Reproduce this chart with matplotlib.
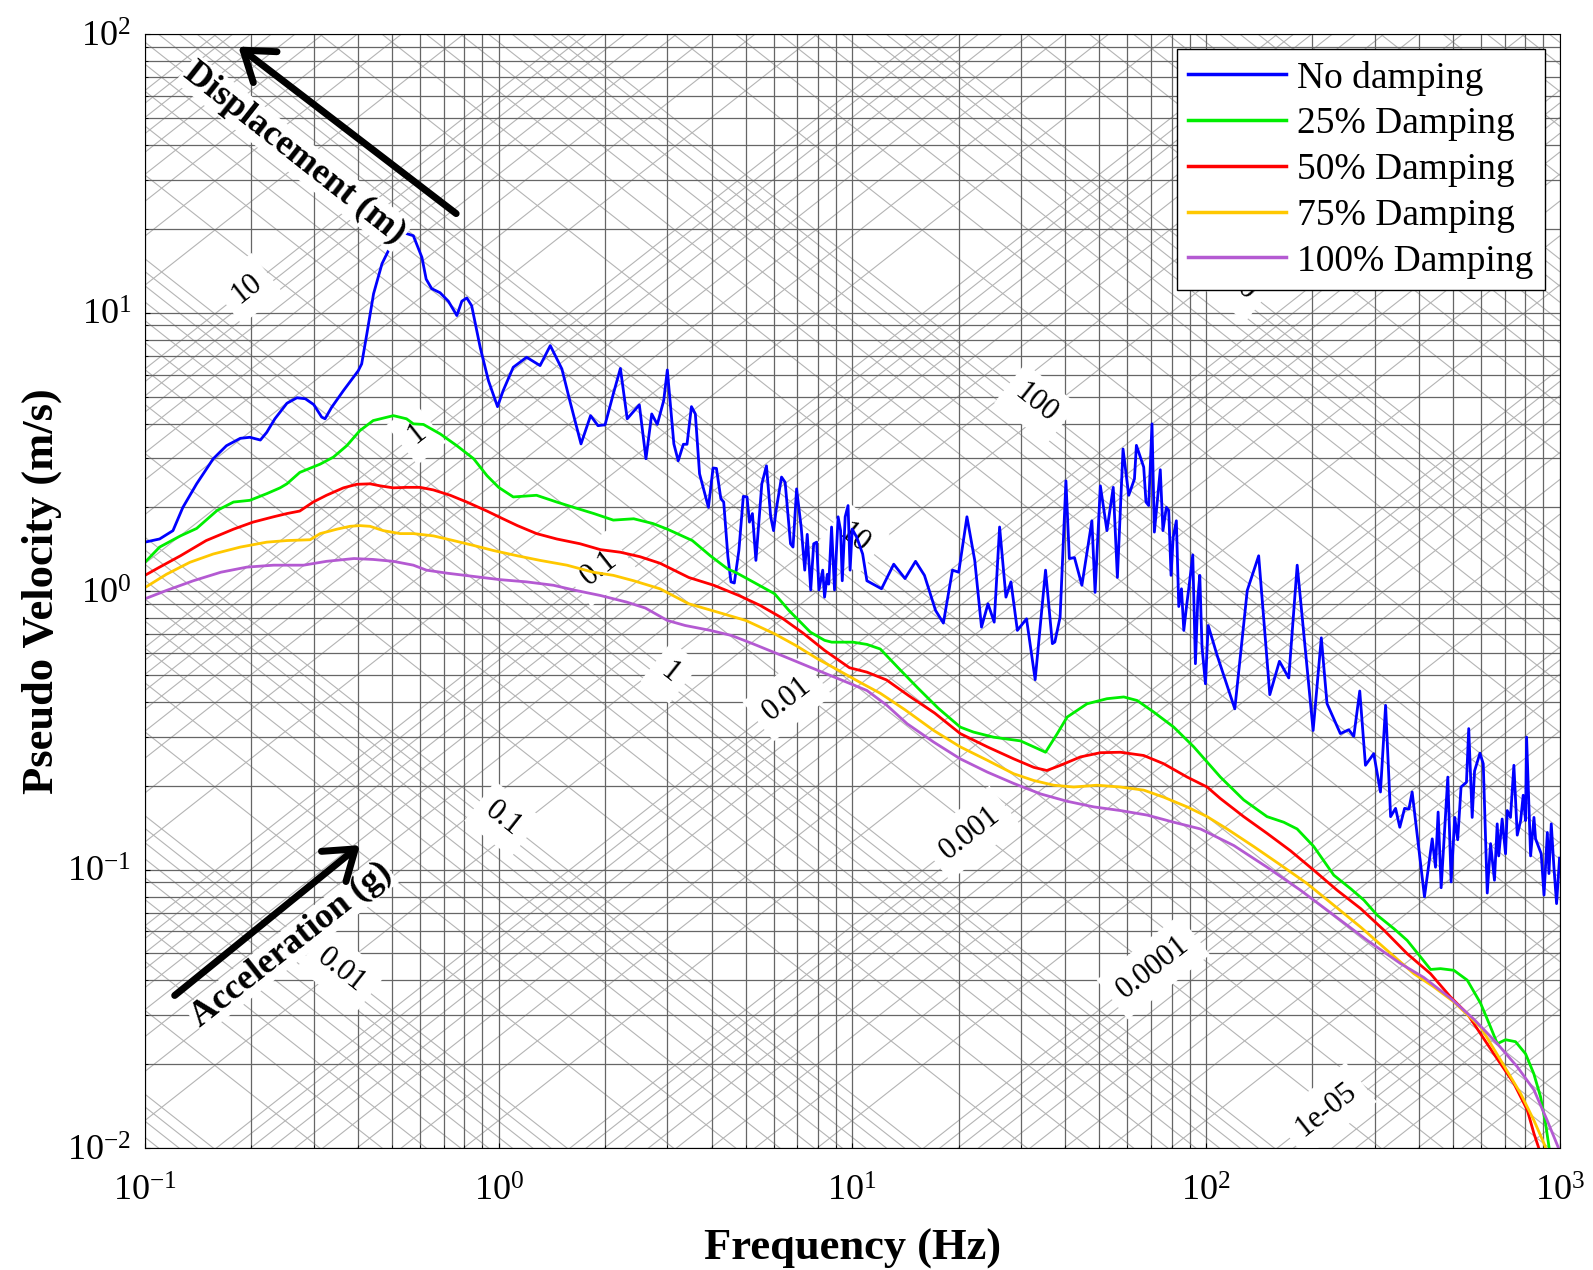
import numpy as np
import matplotlib
matplotlib.use('Agg')
import matplotlib.pyplot as plt

plt.rcParams['font.family'] = 'serif'
plt.rcParams['font.serif'] = ['Liberation Serif', 'DejaVu Serif']
plt.rcParams['mathtext.fontset'] = 'custom'
plt.rcParams['mathtext.rm'] = 'Liberation Serif'
plt.rcParams['mathtext.default'] = 'regular'

# (frequency [Hz], pseudo velocity [m/s])
no_damping = [
    (0.100, 1.50), (0.110, 1.54), (0.120, 1.65), (0.128, 2.00), (0.140, 2.43), (0.156, 2.99),
    (0.170, 3.33), (0.186, 3.54), (0.198, 3.57), (0.212, 3.49), (0.221, 3.72), (0.233, 4.16),
    (0.252, 4.73), (0.269, 4.95), (0.284, 4.91), (0.300, 4.68), (0.316, 4.22), (0.323, 4.16),
    (0.337, 4.57), (0.364, 5.25), (0.401, 6.19), (0.410, 6.55), (0.424, 8.39), (0.443, 11.7),
    (0.468, 15.0), (0.499, 17.7), (0.538, 19.4), (0.574, 18.9), (0.607, 15.8), (0.624, 13.2),
    (0.647, 12.2), (0.683, 11.8), (0.721, 11.0), (0.762, 9.77), (0.787, 11.0), (0.813, 11.3),
    (0.839, 10.6), (0.887, 7.51), (0.936, 5.70), (0.993, 4.60), (1.03, 5.25), (1.10, 6.37),
    (1.20, 6.92), (1.31, 6.46), (1.40, 7.62), (1.51, 6.28), (1.59, 4.83), (1.71, 3.38),
    (1.82, 4.27), (1.91, 3.93), (2.00, 3.96), (2.11, 5.11), (2.21, 6.31), (2.31, 4.16),
    (2.50, 4.67), (2.61, 2.99), (2.71, 4.33), (2.81, 3.97), (2.93, 4.84), (3.00, 6.23),
    (3.13, 3.38), (3.22, 2.94), (3.33, 3.37), (3.41, 3.37), (3.51, 4.60), (3.60, 4.33),
    (3.70, 2.64), (3.92, 2.00), (4.04, 2.77), (4.13, 2.76), (4.25, 2.15), (4.33, 2.09),
    (4.45, 1.33), (4.54, 1.08), (4.64, 1.07), (4.78, 1.40), (4.92, 2.19), (5.04, 2.18),
    (5.12, 1.77), (5.22, 1.90), (5.34, 1.29), (5.55, 2.43), (5.72, 2.82), (5.88, 1.85),
    (5.99, 1.65), (6.09, 1.95), (6.31, 2.57), (6.46, 2.46), (6.69, 1.48), (6.80, 1.44),
    (6.96, 2.33), (7.17, 1.70), (7.34, 1.19), (7.46, 1.60), (7.63, 1.01), (7.78, 1.48),
    (7.93, 1.50), (8.05, 1.01), (8.25, 1.19), (8.35, 0.952), (8.50, 1.15), (8.58, 1.06),
    (8.74, 1.70), (8.91, 1.01), (9.12, 1.85), (9.27, 1.65), (9.37, 1.09), (9.55, 1.85),
    (9.73, 2.03), (9.86, 1.19), (10.0, 1.67), (10.3, 1.56), (10.7, 1.36), (11.0, 1.09),
    (12.1, 1.02), (13.1, 1.25), (14.1, 1.11), (15.1, 1.28), (16.0, 1.14), (17.2, 0.853),
    (18.1, 0.768), (19.2, 1.19), (20.0, 1.17), (21.1, 1.85), (22.2, 1.29), (23.2, 0.743),
    (24.2, 0.901), (25.2, 0.774), (26.1, 1.70), (27.2, 0.952), (28.1, 1.08), (29.3, 0.723),
    (31.1, 0.796), (32.9, 0.481), (35.2, 1.19), (36.8, 0.648), (37.4, 0.657), (38.7, 0.807),
    (40.2, 2.49), (41.1, 1.31), (42.5, 1.32), (44.6, 1.05), (47.6, 1.79), (48.6, 0.99),
    (50.3, 2.39), (52.5, 1.65), (54.7, 2.36), (56.2, 1.12), (58.3, 3.24), (60.5, 2.21),
    (62.8, 2.53), (63.6, 3.34), (66.7, 2.79), (67.7, 2.09), (68.9, 2.03), (70.4, 3.99),
    (71.5, 1.63), (74.3, 2.73), (75.6, 1.65), (77.3, 2.00), (78.5, 1.95), (79.7, 1.14),
    (80.8, 1.56), (82.5, 1.79), (83.8, 0.881), (85.3, 1.02), (86.6, 0.723), (88.1, 0.877),
    (90.0, 1.09), (91.8, 1.35), (93.4, 0.549), (94.9, 0.952), (96.1, 1.14), (97.5, 0.630),
    (99.7, 0.465), (101.5, 0.753), (107.6, 0.588), (120.7, 0.378), (130.9, 1.006), (141.0, 1.34),
    (151.6, 0.425), (161.4, 0.560), (171.5, 0.488), (181.2, 1.24), (201.0, 0.316), (212.0, 0.680),
    (220.0, 0.395), (240.0, 0.308), (253.5, 0.318), (261.9, 0.301), (272.3, 0.438), (282.6, 0.237),
    (298.3, 0.261), (311.6, 0.190), (322.2, 0.389), (332.9, 0.155), (343.8, 0.166), (353.4, 0.142),
    (364.6, 0.166), (375.0, 0.165), (383.0, 0.190), (415.0, 0.0799), (436.5, 0.129), (445.9, 0.102),
    (453.6, 0.161), (462.6, 0.0861), (483.1, 0.215), (493.6, 0.0903), (505.5, 0.154), (515.2, 0.128),
    (526.6, 0.198), (545.5, 0.206), (553.6, 0.321), (566.2, 0.154), (575.0, 0.226), (595.6, 0.262),
    (608.5, 0.240), (624.5, 0.0824), (638.2, 0.124), (654.6, 0.0916), (666.4, 0.146), (673.0, 0.112),
    (688.2, 0.152), (703.6, 0.114), (711.4, 0.163), (726.6, 0.154), (742.8, 0.237), (759.3, 0.133),
    (776.2, 0.150), (789.2, 0.185), (801.5, 0.150), (806.9, 0.299), (828.2, 0.112), (846.5, 0.154),
    (855.4, 0.129), (887.5, 0.114), (903.8, 0.081), (923.6, 0.136), (933.3, 0.0968), (947.5, 0.146),
    (964.0, 0.102), (980.8, 0.0755), (1000.0, 0.110),
]

damping_25 = [
    (0.100, 1.27), (0.110, 1.44), (0.126, 1.58), (0.140, 1.68), (0.160, 1.95), (0.178, 2.09),
    (0.198, 2.12), (0.221, 2.24), (0.241, 2.35), (0.252, 2.43), (0.274, 2.67), (0.313, 2.86),
    (0.341, 3.03), (0.372, 3.33), (0.405, 3.77), (0.442, 4.10), (0.504, 4.27), (0.549, 4.16),
    (0.574, 3.99), (0.613, 3.97), (0.684, 3.67), (0.762, 3.33), (0.850, 2.99), (0.927, 2.60),
    (1.00, 2.36), (1.10, 2.18), (1.28, 2.21), (1.46, 2.09), (1.63, 2.00), (1.86, 1.90),
    (2.11, 1.80), (2.41, 1.82), (2.73, 1.75), (3.00, 1.67), (3.53, 1.52), (3.97, 1.34),
    (4.45, 1.20), (4.67, 1.17), (5.24, 1.08), (6.03, 0.979), (6.62, 0.853), (7.61, 0.713),
    (8.35, 0.666), (8.75, 0.656), (10.05, 0.656), (11.0, 0.644), (12.0, 0.62), (13.5, 0.53),
    (15.3, 0.45), (17.5, 0.38), (20.2, 0.325), (22.0, 0.312), (25.1, 0.299), (29.9, 0.290),
    (32.6, 0.276), (35.2, 0.264), (38.0, 0.308), (40.5, 0.353), (46.1, 0.394), (52.5, 0.411),
    (58.6, 0.417), (63.9, 0.405), (71.2, 0.368), (81.1, 0.325), (92.4, 0.276), (109.9, 0.215),
    (127.9, 0.178), (148.9, 0.155), (166.0, 0.148), (181.1, 0.140), (201.9, 0.121), (230.0, 0.0955),
    (256.4, 0.0855), (279.8, 0.0777), (305.1, 0.0686), (340.0, 0.0614), (370.8, 0.0557), (404.4, 0.0486),
    (431.8, 0.0438), (460.6, 0.0441), (502.4, 0.0435), (548.2, 0.0401), (598.1, 0.0331), (638.2, 0.0272),
    (666.8, 0.0237), (703.6, 0.0245), (751.0, 0.0241), (801.6, 0.0218), (845.6, 0.0185), (883.4, 0.0153),
    (912.6, 0.0123), (933.5, 0.0101), (960.0, 0.0078),
]

damping_50 = [
    (0.100, 1.14), (0.110, 1.22), (0.126, 1.34), (0.149, 1.52), (0.178, 1.67), (0.202, 1.77),
    (0.231, 1.85), (0.252, 1.90), (0.274, 1.94), (0.299, 2.09), (0.326, 2.21), (0.364, 2.35),
    (0.397, 2.42), (0.433, 2.43), (0.462, 2.39), (0.504, 2.35), (0.549, 2.36), (0.600, 2.36),
    (0.654, 2.31), (0.730, 2.21), (0.813, 2.09), (0.927, 1.94), (1.01, 1.84), (1.13, 1.72),
    (1.28, 1.61), (1.46, 1.54), (1.70, 1.48), (1.94, 1.41), (2.21, 1.38), (2.51, 1.33),
    (2.86, 1.26), (3.45, 1.12), (4.06, 1.05), (4.78, 0.965), (5.49, 0.889), (6.31, 0.803),
    (7.26, 0.707), (8.35, 0.613), (9.82, 0.531), (11.0, 0.512), (12.5, 0.48), (14.5, 0.42),
    (17.1, 0.365), (20.2, 0.308), (24.1, 0.276), (28.6, 0.250), (32.6, 0.233), (35.5, 0.227),
    (38.8, 0.237), (44.2, 0.254), (50.3, 0.263), (57.3, 0.264), (66.7, 0.257), (76.0, 0.240),
    (88.5, 0.215), (100.8, 0.198), (109.9, 0.180), (127.9, 0.155), (148.9, 0.135), (173.3, 0.117),
    (201.9, 0.0995), (235.1, 0.0843), (273.8, 0.0725), (318.8, 0.0606), (370.8, 0.0499), (431.6, 0.0423),
    (491.6, 0.0349), (548.2, 0.0304), (651.9, 0.0218), (742.2, 0.0171), (810.5, 0.0137), (846.1, 0.0113),
    (874.3, 0.00997), (900.0, 0.0085),
]

damping_75 = [
    (0.100, 1.03), (0.115, 1.15), (0.134, 1.27), (0.156, 1.36), (0.186, 1.44), (0.221, 1.50),
    (0.252, 1.52), (0.293, 1.53), (0.313, 1.61), (0.349, 1.67), (0.380, 1.71), (0.405, 1.72),
    (0.433, 1.71), (0.472, 1.65), (0.526, 1.61), (0.574, 1.61), (0.654, 1.58), (0.745, 1.52),
    (0.849, 1.46), (0.966, 1.40), (1.13, 1.34), (1.31, 1.29), (1.56, 1.24), (1.85, 1.17),
    (2.11, 1.14), (2.41, 1.09), (2.86, 1.02), (3.45, 0.901), (4.16, 0.841), (5.00, 0.785),
    (6.03, 0.703), (6.93, 0.638), (7.97, 0.572), (9.16, 0.519), (10.5, 0.471), (12.0, 0.43),
    (14.1, 0.375), (17.0, 0.316), (20.2, 0.276), (24.1, 0.247), (28.6, 0.221), (32.6, 0.209),
    (37.1, 0.201), (42.3, 0.198), (49.2, 0.201), (57.3, 0.198), (66.7, 0.193), (76.0, 0.182),
    (88.5, 0.168), (100.8, 0.155), (114.8, 0.140), (136.6, 0.121), (162.5, 0.104), (193.3, 0.0891),
    (230.0, 0.0745), (273.8, 0.0622), (325.4, 0.0513), (387.3, 0.0423), (440.0, 0.0380), (502.4, 0.0335),
    (598.1, 0.0272), (681.3, 0.0207), (776.2, 0.0157), (845.6, 0.0126), (903.6, 0.0104), (940.0, 0.0090),
]

damping_100 = [
    (0.100, 0.939), (0.115, 1.006), (0.137, 1.09), (0.164, 1.17), (0.194, 1.22), (0.231, 1.24),
    (0.281, 1.24), (0.326, 1.28), (0.390, 1.31), (0.442, 1.30), (0.504, 1.28), (0.574, 1.24),
    (0.625, 1.19), (0.717, 1.16), (0.849, 1.13), (1.01, 1.10), (1.20, 1.08), (1.43, 1.05),
    (1.63, 1.01), (1.94, 0.965), (2.30, 0.914), (2.60, 0.87), (3.00, 0.785), (3.37, 0.753),
    (3.97, 0.723), (4.56, 0.693), (5.24, 0.647), (6.31, 0.588), (7.61, 0.533), (9.16, 0.484),
    (11.0, 0.440), (12.5, 0.39), (14.3, 0.334), (17.0, 0.287), (20.2, 0.250), (24.1, 0.224),
    (28.6, 0.204), (34.1, 0.187), (40.5, 0.176), (48.2, 0.168), (57.3, 0.163), (68.2, 0.157),
    (81.1, 0.148), (96.5, 0.140), (120.0, 0.122), (149.0, 0.102), (185.0, 0.0844), (230.0, 0.0686),
    (286.0, 0.0557), (355.0, 0.0460), (413.0, 0.0410), (492.0, 0.0345), (573.0, 0.0290), (667.0, 0.0237),
    (759.0, 0.0196), (846.0, 0.0162), (922.0, 0.0126), (1000.0, 0.0098),
]

series = [
    (no_damping, 'No damping', '#0000ff'),
    (damping_25, '25% Damping', '#00ee00'),
    (damping_50, '50% Damping', '#ff0000'),
    (damping_75, '75% Damping', '#ffc800'),
    (damping_100, '100% Damping', '#b45ad2'),
]

# tripartite grid: displacement (m) and acceleration (g) levels
g = 9.81
disp_decades = [1e-6, 1e-5, 1e-4, 1e-3, 1e-2, 1e-1, 1, 10, 100]
acc_decades = [1e-4, 1e-3, 1e-2, 1e-1, 1, 10, 100, 1000, 1e4, 1e5]
disp_labels = [10, 1, 0.1, 0.01, 0.001, 0.0001, 1e-5]
disp_label_freqs = [0.194, 0.585, 1.92, 6.55, 21.5, 71, 218]
acc_labels = [0.01, 0.1, 1, 10, 100, 1000]
acc_label_freqs = [0.36, 1.03, 3.06, 10.1, 33.1, 116]

fig = plt.figure(figsize=(15.93, 12.70), dpi=100)
ax = fig.add_axes([0.091, 0.096, 0.888, 0.877])
ax.set_xscale('log')
ax.set_yscale('log')

f_line = np.array([0.1, 1000.0])
for dec in disp_decades:
    for k in range(1, 10):
        ax.plot(f_line, 2 * np.pi * f_line * k * dec, color='#b4b4b4', lw=0.8, zorder=0.4)
for dec in acc_decades:
    for k in range(1, 10):
        ax.plot(f_line, k * dec * g / (2 * np.pi * f_line), color='#b4b4b4', lw=0.8, zorder=0.4)

ax.set_xlim(0.1, 1000)
ax.set_ylim(0.01, 100)
ax.autoscale(False)
ax.set_axisbelow(True)
ax.grid(True, which='both', color='#666666', lw=0.9)

# angle of a slope-1 line on screen
w_px = 0.888 * 1593
h_px = 0.877 * 1270
ang = np.degrees(np.arctan(h_px / w_px))

box = dict(boxstyle='square,pad=0.35', fc='white', ec='none')
for d, f in zip(disp_labels, disp_label_freqs):
    ax.text(f, 2 * np.pi * f * d, '%g' % d, rotation=ang, rotation_mode='anchor',
            ha='center', va='center', fontsize=22, bbox=box, zorder=1.5)
for a, f in zip(acc_labels, acc_label_freqs):
    ax.text(f, a * g / (2 * np.pi * f), '%g' % a, rotation=-ang, rotation_mode='anchor',
            ha='center', va='center', fontsize=22, bbox=box, zorder=1.5)

for data, name, col in series:
    arr = np.array(data)
    ax.plot(arr[:, 0], arr[:, 1], color=col, lw=2.0, label=name, zorder=2)

# direction arrows
arrow = dict(arrowstyle='->,head_length=0.5,head_width=0.35', lw=5, color='black',
             shrinkA=0, shrinkB=0, mutation_scale=40)
ax.annotate('', xy=(0.066, 0.989), xytext=(0.220, 0.839), xycoords='axes fraction',
            arrowprops=arrow, zorder=5)
ax.annotate('', xy=(0.152, 0.272), xytext=(0.021, 0.137), xycoords='axes fraction',
            arrowprops=arrow, zorder=5)
ax.text(0.1056, 0.8933, 'Displacement (m)', transform=ax.transAxes, rotation=-ang,
        rotation_mode='anchor', ha='center', va='center', fontsize=26, fontweight='bold',
        bbox=dict(boxstyle='square,pad=0.05', fc='white', ec='none'), zorder=4)
ax.text(0.1034, 0.1823, 'Acceleration (g)', transform=ax.transAxes, rotation=ang,
        rotation_mode='anchor', ha='center', va='center', fontsize=26, fontweight='bold',
        bbox=dict(boxstyle='square,pad=0.02', fc='white', ec='none'), zorder=1.4)

ax.set_xlabel('Frequency (Hz)', fontsize=32, fontweight='bold', labelpad=14)
ax.set_ylabel('Pseudo Velocity (m/s)', fontsize=32, fontweight='bold', labelpad=4)
ax.tick_params(which='both', direction='in', labelsize=26)
ax.tick_params(axis='x', pad=20)
ax.tick_params(axis='y', pad=10)

leg = ax.legend(loc='upper right', fontsize=27, fancybox=False, edgecolor='black',
                framealpha=1, handlelength=2.6, handletextpad=0.3, labelspacing=0.3,
                borderpad=0.3, borderaxespad=0.4)
leg.get_frame().set_linewidth(1.0)
for line in leg.get_lines():
    line.set_linewidth(2.5)
leg.set_zorder(6)

fig.savefig('out.png', dpi=100, facecolor='white')
